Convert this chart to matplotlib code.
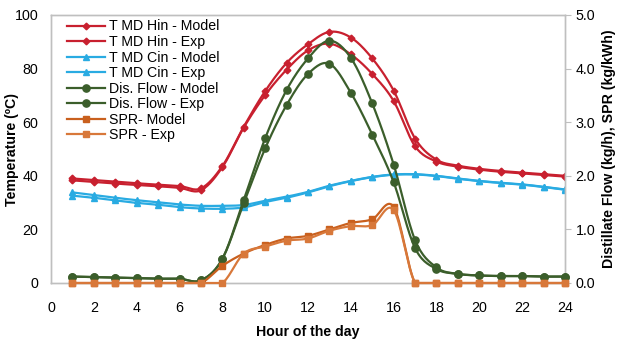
import numpy as np
from matplotlib import pyplot as plt
from matplotlib.ticker import MultipleLocator, FormatStrFormatter

plt.rcParams['font.family'] = ['Liberation Sans', 'DejaVu Sans']

# hour of the day
hours = list(range(1, 25))

# temperatures (ºC), left axis
hin_model = [39.0, 38.4, 37.8, 37.2, 36.7, 36.2, 35.3, 43.6, 58.3, 71.6, 82.1, 89.1,
             93.7, 91.6, 83.8, 71.8, 53.9, 46.0, 43.8, 42.6, 41.8, 41.2, 40.6, 40.0]
hin_exp = [38.3, 37.7, 37.1, 36.6, 36.1, 35.5, 34.6, 43.2, 58.0, 70.1, 79.6, 86.8,
           89.3, 85.3, 78.0, 67.9, 51.0, 45.3, 43.4, 42.3, 41.5, 40.9, 40.3, 39.7]
cin_model = [33.8, 32.8, 31.8, 30.9, 30.1, 29.3, 28.8, 28.8, 29.1, 30.7, 32.2, 34.0,
             36.3, 38.1, 39.6, 40.5, 40.6, 40.0, 39.0, 38.1, 37.4, 36.8, 35.9, 34.9]
cin_exp = [32.6, 31.8, 30.8, 29.9, 29.2, 28.3, 27.8, 27.7, 28.2, 30.2, 31.8, 33.8,
           36.1, 38.0, 39.5, 40.4, 40.5, 39.9, 38.9, 38.0, 37.3, 36.7, 35.8, 34.8]

# distillate flow (kg/h) and SPR (kg/kWh), right axis
flow_model = [0.12, 0.11, 0.10, 0.09, 0.08, 0.08, 0.05, 0.45, 1.55, 2.70, 3.60, 4.19,
              4.52, 4.20, 3.35, 2.21, 0.80, 0.29, 0.17, 0.14, 0.13, 0.13, 0.12, 0.12]
flow_exp = [0.12, 0.11, 0.10, 0.09, 0.08, 0.08, 0.05, 0.45, 1.49, 2.51, 3.32, 3.90,
            4.09, 3.55, 2.77, 1.88, 0.65, 0.26, 0.17, 0.14, 0.13, 0.13, 0.12, 0.12]
spr_model = [0, 0, 0, 0, 0, 0, 0, 0.32, 0.55, 0.71, 0.83, 0.88,
             1.00, 1.12, 1.19, 1.42, 0, 0, 0, 0, 0, 0, 0, 0]
spr_exp = [0, 0, 0, 0, 0, 0, 0, 0.0, 0.55, 0.68, 0.79, 0.83,
           0.975, 1.06, 1.08, 1.36, 0, 0, 0, 0, 0, 0, 0, 0]

N = 16  # points per segment


def smooth(x, y, floor=None):
    '''Courbe lissée façon Excel (Catmull-Rom / Bézier), un point de donnée tous les N.'''
    x = np.asarray(x, float)
    y = np.asarray(y, float)
    xp = np.r_[x[0], x, x[-1]]
    yp = np.r_[y[0], y, y[-1]]
    t = np.linspace(0, 1, N, endpoint=False)[:, None]
    out = []
    for i in range(len(x) - 1):
        p0 = np.array([xp[i], yp[i]])
        p1 = np.array([xp[i + 1], yp[i + 1]])
        p2 = np.array([xp[i + 2], yp[i + 2]])
        p3 = np.array([xp[i + 3], yp[i + 3]])
        c1 = p1 + (p2 - p0) / 6
        c2 = p2 - (p3 - p1) / 6
        out.append((1 - t) ** 3 * p1 + 3 * (1 - t) ** 2 * t * c1 + 3 * (1 - t) * t ** 2 * c2 + t ** 3 * p2)
    out.append(np.array([[x[-1], y[-1]]]))
    pts = np.vstack(out)
    if floor is not None:
        pts[:, 1] = np.maximum(pts[:, 1], floor)
    return pts[:, 0], pts[:, 1]


RED = '#C8202F'
BLUE = '#29ABE2'
GREEN = '#3B5E2B'
ORANGE = '#C9601E'
ORANGE_L = '#D8783A'
GREY = '#BFBFBF'

fig = plt.figure(figsize=(6.17, 3.41), dpi=100)
ax = fig.add_axes([51 / 617, 1 - 283 / 341, (565 - 51) / 617, (283 - 15) / 341])
ax2 = ax.twinx()

series_left = [(hin_model, RED, 'D', 3.4, 'T MD Hin - Model'),
               (hin_exp, RED, 'D', 3.4, 'T MD Hin - Exp'),
               (cin_model, BLUE, '^', 4.8, 'T MD Cin - Model'),
               (cin_exp, BLUE, '^', 4.8, 'T MD Cin - Exp')]
series_right = [(flow_model, GREEN, 'o', 5.2, 'Dis. Flow - Model'),
                (flow_exp, GREEN, 'o', 5.2, 'Dis. Flow - Exp'),
                (spr_model, ORANGE, 's', 4.6, 'SPR- Model'),
                (spr_exp, ORANGE_L, 's', 4.6, 'SPR - Exp')]

handles = []
for vals, col, mk, ms, lab in series_left:
    xs, ys = smooth(hours, vals)
    h, = ax.plot(xs, ys, color=col, lw=1.6, marker=mk, ms=ms, markevery=N, label=lab)
    handles.append(h)
for vals, col, mk, ms, lab in series_right:
    xs, ys = smooth(hours, vals, floor=0)
    h, = ax2.plot(xs, ys, color=col, lw=1.6, marker=mk, ms=ms, markevery=N, label=lab,
                  clip_on=False, zorder=3)
    handles.append(h)

ax.set_xlim(0, 24)
ax.set_ylim(0, 100)
ax2.set_ylim(0, 5)
ax.xaxis.set_major_locator(MultipleLocator(2))
ax.yaxis.set_major_locator(MultipleLocator(20))
ax2.yaxis.set_major_locator(MultipleLocator(1))
ax2.yaxis.set_major_formatter(FormatStrFormatter('%.1f'))

for a in (ax, ax2):
    for s in a.spines.values():
        s.set_color(GREY)
        s.set_linewidth(1)
ax.tick_params(axis='both', length=0, labelsize=10.3, colors='black')
ax.tick_params(axis='x', pad=13)
ax.tick_params(axis='y', pad=9)
ax2.tick_params(axis='y', length=4, color=GREY, labelsize=10.3, pad=3.5)

# titres des axes placés à la main
fig.text(308 / 617, 1 - 332 / 341, 'Hour of the day', fontsize=10.2, fontweight='bold',
         ha='center', va='center')
fig.text(12 / 617, 1 - 149 / 341, 'Temperature (ºC)', fontsize=10.2, fontweight='bold',
         ha='center', va='center', rotation=90)
fig.text(609 / 617, 1 - 149 / 341, 'Distillate Flow (kg/h), SPR (kg/kWh)', fontsize=10.2,
         fontweight='bold', ha='center', va='center', rotation=90)

ax2.legend(handles=handles, loc='upper left', bbox_to_anchor=(0.015, 1.015), frameon=False,
           fontsize=10.2, handlelength=2.7, handletextpad=0.25, labelspacing=0.11,
           borderaxespad=0.2)

fig.savefig('out.png', dpi=100)
